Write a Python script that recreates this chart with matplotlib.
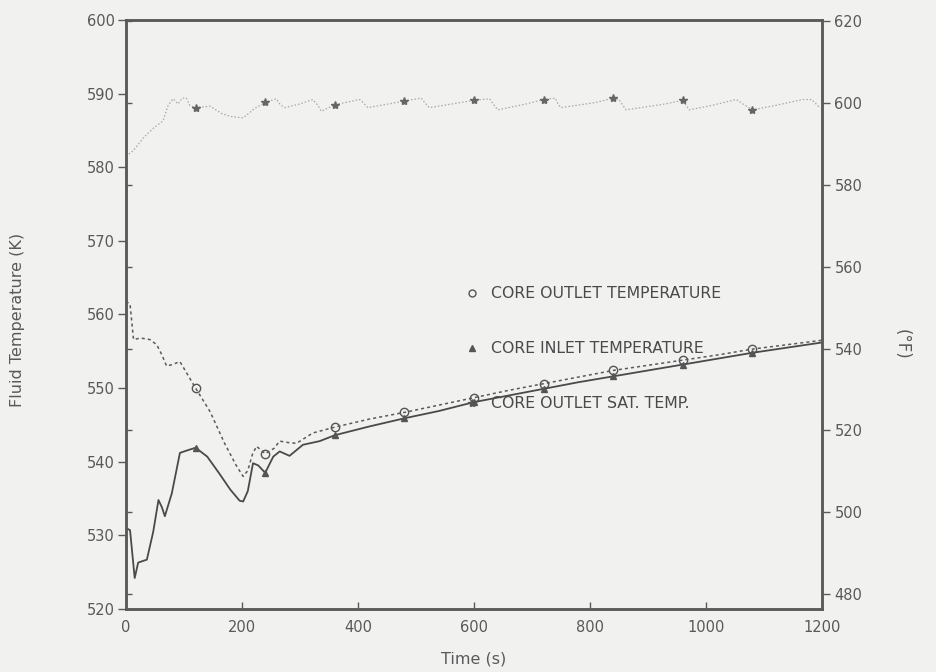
import numpy as np
import matplotlib
matplotlib.use("Agg")
import matplotlib.pyplot as plt
from matplotlib.lines import Line2D

# Core outlet temperature (K)
t_out = [0, 7, 13, 25, 41, 53, 62, 70, 80, 93, 105, 120, 145, 170, 190, 202, 210,
         218, 225, 240, 255, 265, 280, 294, 322, 360, 420, 480, 540, 600, 660, 720,
         780, 840, 900, 960, 1020, 1080, 1140, 1200]
T_out = [561.8, 561.4, 556.6, 556.8, 556.6, 555.9, 554.5, 553.0, 553.2, 553.6, 552.0,
         550.0, 546.8, 542.5, 539.5, 538.0, 538.8, 541.0, 542.1, 541.1, 541.8, 542.8,
         542.6, 542.5, 543.9, 544.7, 545.8, 546.7, 547.7, 548.7, 549.7, 550.6, 551.5,
         552.4, 553.1, 553.8, 554.5, 555.3, 555.9, 556.5]

# Core inlet temperature (K)
t_in = [0, 7, 15, 21, 36, 47, 56, 62, 67, 79, 93, 104, 120, 140, 160, 180, 196, 202,
        210, 219, 228, 240, 254, 265, 282, 305, 334, 360, 420, 480, 540, 600, 660, 720,
        780, 840, 900, 960, 1020, 1080, 1140, 1200]
T_in = [531.0, 530.7, 524.2, 526.3, 526.7, 530.5, 534.8, 533.8, 532.6, 535.7, 541.2,
        541.5, 541.9, 540.7, 538.5, 536.2, 534.7, 534.6, 536.0, 539.8, 539.5, 538.5,
        540.7, 541.4, 540.8, 542.3, 542.8, 543.6, 544.8, 545.9, 546.9, 548.1, 549.0,
        549.9, 550.8, 551.6, 552.4, 553.2, 554.0, 554.8, 555.5, 556.2]

# Core outlet saturation temperature (K)
t_sat = [0, 13, 30, 47, 64, 72, 81, 90, 97, 104, 110, 120, 145, 165, 180, 202, 222,
         240, 259, 266, 274, 300, 322, 330, 337, 360, 403, 410, 417, 460, 480, 509,
         516, 523, 570, 600, 627, 634, 641, 690, 720, 740, 745, 750, 810, 840, 850,
         862, 930, 960, 971, 1010, 1052, 1080, 1120, 1166, 1182, 1195]
T_sat = [581.5, 582.3, 584.0, 585.3, 586.3, 588.3, 589.3, 588.6, 589.4, 589.4, 588.4,
         588.1, 588.3, 587.3, 586.9, 586.7, 588.0, 588.8, 589.3, 588.5, 588.1, 588.6,
         589.2, 588.5, 587.6, 588.5, 589.2, 588.7, 588.1, 588.7, 589.0, 589.4, 588.7,
         588.1, 588.7, 589.1, 589.3, 588.5, 587.8, 588.6, 589.2, 589.4, 588.6, 588.1,
         588.8, 589.4, 589.2, 587.8, 588.6, 589.1, 587.8, 588.4, 589.2, 587.8, 588.4,
         589.2, 589.2, 588.2]

marker_times = [120, 240, 360, 480, 600, 720, 840, 960, 1080]
labels = ["CORE OUTLET TEMPERATURE", "CORE INLET TEMPERATURE", "CORE OUTLET SAT. TEMP."]
x_ticks = [0, 200, 400, 600, 800, 1000, 1200]
x_ticklabels = ["0", "200", "400", "600", "800", "1000", "1200"]
k_ticks = [520, 530, 540, 550, 560, 570, 580, 590, 600]
f_ticks = [480, 500, 520, 540, 560, 580, 600, 620]


def k_to_f(k):
    return np.asarray(k) * 1.8 - 459.67


def f_to_k(f):
    return (np.asarray(f) + 459.67) / 1.8


def marks(ts):
    return [list(ts).index(m) for m in marker_times]


bg = "#f1f1f0"
ink = "#595959"
plt.rcParams["font.family"] = ["DejaVu Sans"]

fig = plt.figure(figsize=(9.36, 6.72), dpi=100, facecolor=bg)
ax = fig.add_axes([0.1346, 0.0938, 0.7436, 0.8764], facecolor=bg)

ax.plot(t_sat, T_sat, color="#a8a8a8", lw=0.9, ls=(0, (1.2, 1.6)),
        marker="*", markevery=marks(t_sat), ms=6, mfc="#666666", mec="#666666", zorder=3)
ax.plot(t_out, T_out, color="#5a5a5a", lw=1.1, ls=(0, (2.0, 2.0)),
        marker="o", markevery=marks(t_out), ms=6, mfc="none", mec="#555555", mew=1.0,
        zorder=3)
ax.plot(t_in, T_in, color="#4a4a4a", lw=1.3, ls="-",
        marker="^", markevery=marks(t_in), ms=5, mfc="#555555", mec="#555555", zorder=4)

ax.set_xlim(0, 1200)
ax.set_ylim(520, 600)
ax.set_xticks(x_ticks)
ax.set_xticklabels(x_ticklabels)
ax.set_yticks(k_ticks)
ax.set_yticks(f_to_k(f_ticks), minor=True)

for s in ax.spines.values():
    s.set_linewidth(1.8)
    s.set_color("#5a5a5a")

ax.tick_params(axis="y", which="major", direction="out", length=6, width=1.0,
               color=ink, labelcolor=ink, labelsize=10.5, pad=2)
ax.tick_params(axis="y", which="minor", direction="in", length=4, width=1.0, color=ink)
ax.tick_params(axis="x", which="major", direction="in", length=5, width=1.0,
               color=ink, labelcolor=ink, labelsize=10.5, pad=8)

ax2 = ax.twinx()
ax2.set_ylim(k_to_f(520), k_to_f(600))
ax2.set_yticks(f_ticks)
ax2.tick_params(axis="y", direction="out", length=6, width=1.0, color=ink,
                labelcolor=ink, labelsize=10.5, pad=3)
for s in ax2.spines.values():
    s.set_linewidth(1.8)
    s.set_color("#5a5a5a")

ax.set_xlabel("Time (s)", fontsize=11.5, color=ink)
ax.xaxis.set_label_coords(0.5, -0.072)
ax.set_ylabel("Fluid Temperature (K)", fontsize=11.5, color=ink)
ax.yaxis.set_label_coords(-0.145, 0.49)
ax2.set_ylabel("(°F)", fontsize=12, color=ink, rotation=270)
ax2.yaxis.set_label_coords(1.128, 0.45)

handles = [
    Line2D([], [], ls="none", marker="o", ms=5, mfc="none", mec="#555555"),
    Line2D([], [], ls="none", marker="^", ms=5, mfc="#555555", mec="#555555"),
    Line2D([], [], ls="none", marker="*", ms=6, mfc="#555555", mec="#555555"),
]
leg = ax.legend(handles, labels, loc="upper left", bbox_to_anchor=(0.487, 0.548),
                frameon=False, fontsize=11.3, handlelength=0.9, handletextpad=0.75,
                labelspacing=2.55, borderpad=0, borderaxespad=0)
for txt in leg.get_texts():
    txt.set_color("#4a4a4a")

fig.savefig("out.png", dpi=100, facecolor=bg)
